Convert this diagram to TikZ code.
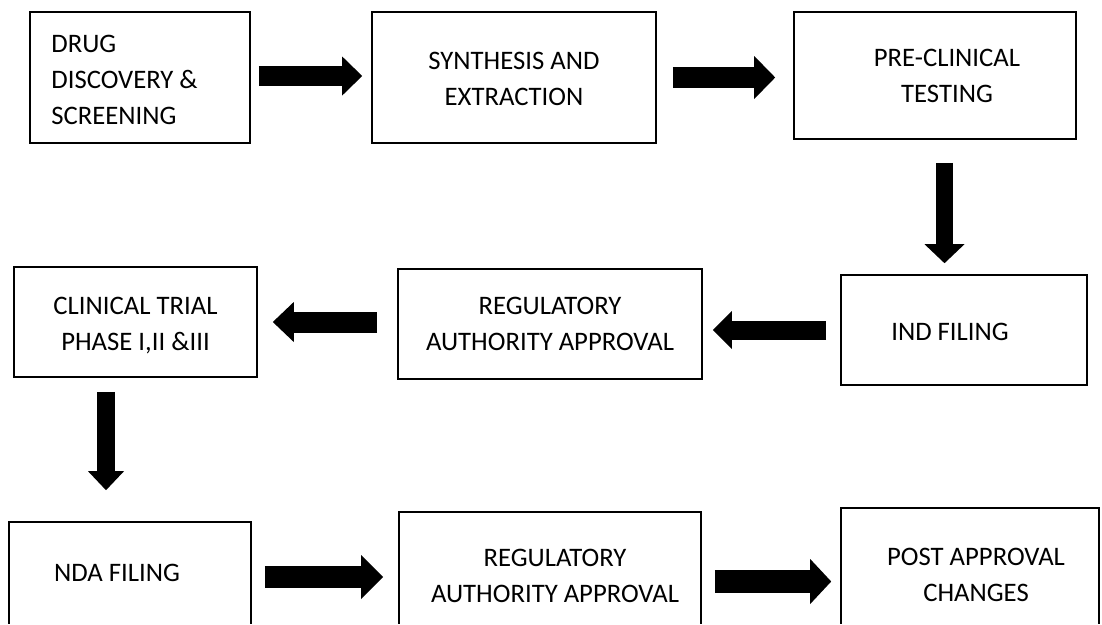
\documentclass[tikz,border=0pt]{standalone}
\usepackage{fontspec}
\setmainfont{Carlito}
\usetikzlibrary{arrows.meta}
\tikzset{
  box/.style={draw, line width=1.6pt, inner sep=0pt},
  tx/.style={font=\fontsize{26.7pt}{36pt}\selectfont, align=center, inner sep=0pt},
  fat/.style n args={3}{line width=#1pt, -{Triangle[length=#3pt, width=#2pt, line width=0pt]}}
}
\begin{document}
\begin{tikzpicture}[x=1pt,y=-1pt]
\useasboundingbox (0,0) rectangle (1102,624);
\clip (0,0) rectangle (1102,623);

% boxes
\node[box, minimum width=220pt, minimum height=131pt] (b1) at (140,77.5) {};
\node[box, minimum width=284pt, minimum height=131pt] (b2) at (514,77.5) {};
\node[box, minimum width=282pt, minimum height=127pt] (b3) at (935,75.5) {};
\node[box, minimum width=246pt, minimum height=110pt] (ind) at (964,330) {};
\node[box, minimum width=304pt, minimum height=110pt] (reg1) at (550,324) {};
\node[box, minimum width=243pt, minimum height=110pt] (clin) at (135.5,322) {};
\node[box, minimum width=242pt, minimum height=118pt] (nda) at (130,581) {};
\node[box, minimum width=302pt, minimum height=128pt] (reg2) at (550,576) {};
\node[box, minimum width=258pt, minimum height=132pt] (post) at (970,574) {};

% texts
\node[tx, align=left, anchor=west] (t1) at ([xshift=22pt, yshift=-2pt]b1.west) {DRUG\\DISCOVERY \&\\SCREENING};
\node[tx] (t2) at ([yshift=-1pt]b2.center) {SYNTHESIS AND\\EXTRACTION};
\node[tx] (t3) at ([xshift=12pt]b3.center) {PRE-CLINICAL\\TESTING};
\node[tx] (tind) at ([xshift=-14pt, yshift=-2pt]ind.center) {IND FILING};
\node[tx] (treg1) at (reg1.center) {REGULATORY\\AUTHORITY APPROVAL};
\node[tx] (tclin) at ([yshift=-3.5pt]clin.center) {CLINICAL TRIAL\\PHASE I,II \&III};
\node[tx] (tnda) at ([xshift=-13pt, yshift=8pt]nda.center) {NDA FILING};
\node[tx] (treg2) at ([xshift=5pt]reg2.center) {REGULATORY\\AUTHORITY APPROVAL};
\node[tx] (tpost) at ([xshift=6pt, yshift=-1pt]post.center) {POST APPROVAL\\CHANGES};

% helper coordinates
\coordinate (d1) at ([xshift=9.5pt]b3.south);
\coordinate (d2) at ([xshift=-29.5pt]clin.south);
\coordinate (h1) at ([yshift=4pt]nda.east);
\coordinate (h2) at ([yshift=-5.5pt]reg2.east);

% arrows
\draw[fat={20}{39}{20}, shorten <=8pt, shorten >=9pt] ([yshift=1.5pt]b1.east) -- ([yshift=1.5pt]b1.east -| b2.west);
\draw[fat={21}{43}{21}, shorten <=16pt, shorten >=18pt] (b2.east) -- (b2.east -| b3.west);
\draw[fat={17}{40}{19}, shorten <=23pt, shorten >=11pt] (d1) -- (d1 |- ind.north);
\draw[fat={19}{38}{19}, shorten <=14pt, shorten >=10pt] (ind.west) -- (ind.west -| reg1.east);
\draw[fat={21}{40}{21}, shorten <=20pt, shorten >=15pt] (clin.east -| reg1.west) -- (clin.east);
\draw[fat={18}{36}{19}, shorten <=14pt, shorten >=31pt] (d2) -- (d2 |- nda.north);
\draw[fat={22}{44}{22}, shorten <=13pt, shorten >=15pt] (h1) -- (h1 -| reg2.west);
\draw[fat={23}{45}{21}, shorten <=13pt, shorten >=9pt] (h2) -- (h2 -| post.west);
\end{tikzpicture}
\end{document}
